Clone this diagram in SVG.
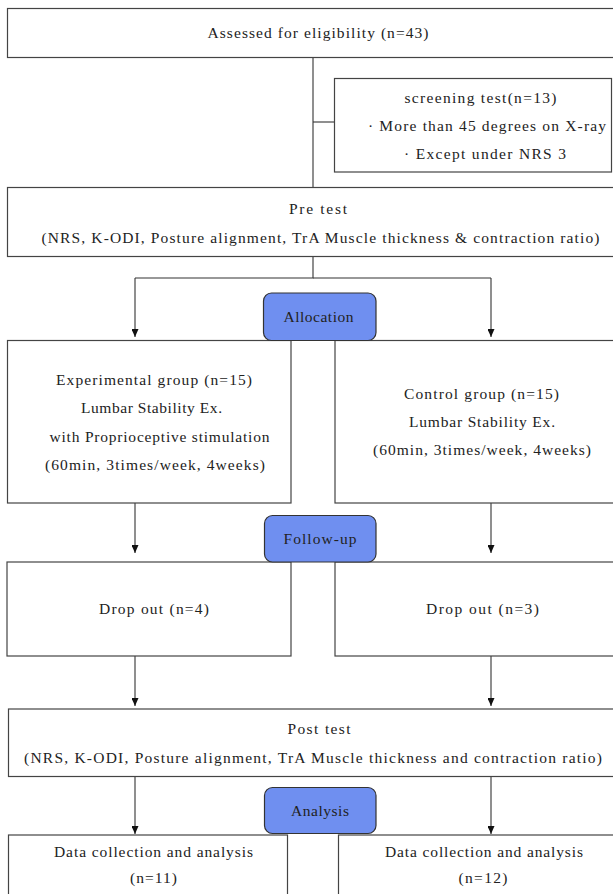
<svg xmlns="http://www.w3.org/2000/svg" width="613" height="894" viewBox="0 0 613 894">
<defs>
<marker id="arr" markerUnits="userSpaceOnUse" markerWidth="8" markerHeight="7" refX="8" refY="3.5" orient="auto" viewBox="0 0 8 7">
<path d="M0,0 L8,3.5 L0,7 Z" fill="#111"/>
</marker>
</defs>
<style>
.box{fill:#fff;stroke:#444;stroke-width:1.2}
.blue{fill:#6f8ff0;stroke:#333;stroke-width:1.2}
.ln{fill:none;stroke:#333;stroke-width:1.1}
.ar{fill:none;stroke:#333;stroke-width:1.1}
text{font-family:"Liberation Serif","Times New Roman",serif;font-size:15.5px;fill:#222;text-anchor:middle}
</style>
<rect width="613" height="894" fill="#fff"/>

<g id="connectors">
<line class="ln" x1="313" y1="57" x2="313" y2="188"/>
<line class="ln" x1="313" y1="122" x2="334.5" y2="122"/>
<polyline class="ln" points="313,256 313,278 135,278"/>
<line class="ln" x1="313" y1="278" x2="491" y2="278"/>
<line class="ar" x1="135" y1="278" x2="135" y2="337" marker-end="url(#arr)"/>
<line class="ar" x1="491" y1="278" x2="491" y2="337" marker-end="url(#arr)"/>
<line class="ar" x1="135" y1="503" x2="135" y2="553" marker-end="url(#arr)"/>
<line class="ar" x1="491" y1="503" x2="491" y2="553" marker-end="url(#arr)"/>
<line class="ar" x1="135" y1="656" x2="135" y2="706" marker-end="url(#arr)"/>
<line class="ar" x1="491" y1="656" x2="491" y2="706" marker-end="url(#arr)"/>
<line class="ar" x1="135" y1="777" x2="135" y2="834" marker-end="url(#arr)"/>
<line class="ar" x1="491" y1="777" x2="491" y2="834" marker-end="url(#arr)"/>
</g>

<g id="assessed">
<rect class="box" x="7.5" y="8.5" width="607" height="49"/>
<text x="318" y="37.5" textLength="221" lengthAdjust="spacing">Assessed for eligibility (n=43)</text>
</g>

<g id="screening">
<rect class="box" x="334.5" y="78.5" width="277" height="93.5"/>
<text x="480.5" y="102.5" textLength="152" lengthAdjust="spacing">screening test(n=13)</text>
<text x="487" y="130.5" textLength="238" lengthAdjust="spacing">· More than 45 degrees on X-ray</text>
<text x="485" y="158.5" textLength="162" lengthAdjust="spacing">·  Except under NRS 3</text>
</g>

<g id="pretest">
<rect class="box" x="7.5" y="187.5" width="607" height="69"/>
<text x="318" y="214" textLength="58" lengthAdjust="spacing">Pre test</text>
<text x="320.5" y="242.5" textLength="558" lengthAdjust="spacing">(NRS, K-ODI, Posture alignment, TrA Muscle thickness &amp; contraction ratio)</text>
</g>

<g id="experimental">
<rect class="box" x="7.5" y="340.5" width="283.5" height="162.5"/>
<text x="154" y="385" textLength="196" lengthAdjust="spacing">Experimental group (n=15)</text>
<text x="151.5" y="413" textLength="141" lengthAdjust="spacing">Lumbar Stability Ex.</text>
<text x="159.5" y="441.5" textLength="220" lengthAdjust="spacing">with Proprioceptive stimulation</text>
<text x="155" y="469.5" textLength="220" lengthAdjust="spacing">(60min, 3times/week, 4weeks)</text>
</g>

<g id="control">
<rect class="box" x="335" y="340.5" width="280" height="162.5"/>
<text x="481.5" y="398.5" textLength="155" lengthAdjust="spacing">Control group (n=15)</text>
<text x="482" y="427" textLength="146" lengthAdjust="spacing">Lumbar Stability Ex.</text>
<text x="482" y="455" textLength="218" lengthAdjust="spacing">(60min, 3times/week, 4weeks)</text>
</g>

<g id="allocation">
<rect class="blue" x="263.5" y="293" width="112.5" height="47.5" rx="8"/>
<text x="318.5" y="321.5" textLength="70" lengthAdjust="spacing">Allocation</text>
</g>

<g id="dropout-left">
<rect class="box" x="7" y="562" width="284" height="94"/>
<text x="154" y="614" textLength="110" lengthAdjust="spacing">Drop out (n=4)</text>
</g>

<g id="dropout-right">
<rect class="box" x="335" y="562" width="280" height="94"/>
<text x="482.5" y="614" textLength="113" lengthAdjust="spacing">Drop out (n=3)</text>
</g>

<g id="followup">
<rect class="blue" x="264.5" y="515.5" width="111.5" height="46.5" rx="8"/>
<text x="320" y="543.5" textLength="73" lengthAdjust="spacing">Follow-up</text>
</g>

<g id="posttest">
<rect class="box" x="8.5" y="709" width="606" height="67.5"/>
<text x="319" y="734" textLength="63" lengthAdjust="spacing">Post test</text>
<text x="313" y="762.5" textLength="578" lengthAdjust="spacing">(NRS, K-ODI, Posture alignment, TrA Muscle thickness and contraction ratio)</text>
</g>

<g id="analysis">
<rect class="blue" x="264.5" y="787.5" width="111.5" height="46" rx="8"/>
<text x="320" y="815.5" textLength="58" lengthAdjust="spacing">Analysis</text>
</g>

<g id="data-left">
<rect class="box" x="8.5" y="835" width="279" height="70"/>
<text x="153.5" y="857" textLength="199" lengthAdjust="spacing">Data collection and analysis</text>
<text x="153.5" y="882.5" textLength="47" lengthAdjust="spacing">(n=11)</text>
</g>

<g id="data-right">
<rect class="box" x="338.5" y="835" width="276" height="70"/>
<text x="484" y="857" textLength="198" lengthAdjust="spacing">Data collection and analysis</text>
<text x="483" y="882.5" textLength="49" lengthAdjust="spacing">(n=12)</text>
</g>
</svg>
